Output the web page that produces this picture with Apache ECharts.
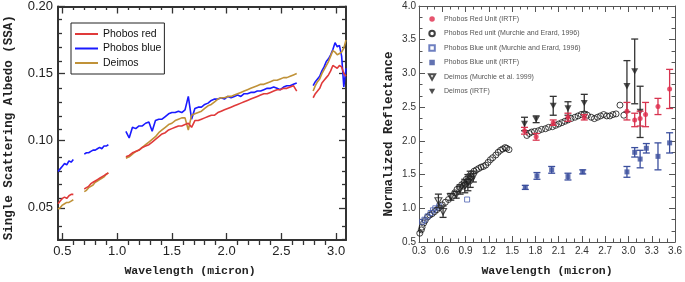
<!DOCTYPE html>
<html>
<head>
<meta charset="utf-8">
<script src="https://cdn.jsdelivr.net/npm/echarts@6/dist/echarts.min.js"></script>
<style>
html, body { margin: 0; padding: 0; background: #fff; }
#chart { width: 685px; height: 282px; }
</style>
</head>
<body>
<div id="chart"></div>
<script>
// left panel: single scattering albedo spectra (null = gap between segments)
const ssaWavelength = [
  0.46, 0.48, 0.50, 0.52, 0.54, 0.56, 0.58, 0.60, null,
  0.70, 0.72, 0.74, 0.76, 0.78, 0.80, 0.82, 0.84, 0.86, 0.88, 0.90, 0.92, null,
  1.08, 1.11, 1.14, 1.17, 1.20, 1.23, 1.26, 1.29, 1.32, 1.35, 1.38, 1.41, 1.44, 1.47, 1.50, 1.53, 1.56, 1.59,
  1.62, 1.65, 1.68, 1.71, 1.74, 1.77, 1.80, 1.83, 1.86, 1.89, 1.92, 1.95, 1.98, 2.01, 2.04, 2.07, 2.10, 2.13,
  2.16, 2.19, 2.22, 2.25, 2.28, 2.31, 2.34, 2.37, 2.40, 2.43, 2.46, 2.49, 2.52, 2.55, 2.58, 2.61, 2.64, null,
  2.79, 2.81, 2.83, 2.85, 2.87, 2.89, 2.91, 2.93, 2.95, 2.97, 2.99, 3.01, 3.03, 3.05, 3.07, 3.09
]
const ssaPhobosRed = [
  0.053, 0.055, 0.057, 0.058, 0.057, 0.059, 0.060, 0.060, null,
  0.064, 0.065, 0.066, 0.068, 0.069, 0.070, 0.071, 0.072, 0.073, 0.074, 0.075, 0.076, null,
  0.088, 0.089, 0.091, 0.092, 0.093, 0.095, 0.096, 0.097, 0.099, 0.101, 0.103, 0.105, 0.106, 0.108, 0.109, 0.110, 0.111, 0.111,
  0.112, 0.113, 0.110, 0.115, 0.115, 0.116, 0.117, 0.118, 0.119, 0.119, 0.121, 0.122, 0.123, 0.124, 0.125, 0.126, 0.127, 0.128,
  0.129, 0.130, 0.131, 0.132, 0.133, 0.134, 0.135, 0.135, 0.136, 0.137, 0.138, 0.138, 0.139, 0.139, 0.140, 0.141, 0.137, null,
  0.132, 0.135, 0.137, 0.139, 0.143, 0.145, 0.147, 0.149, 0.152, 0.156, 0.155, 0.154, 0.156, 0.155, 0.150, 0.148
]
const ssaPhobosBlue = [
  0.077, 0.079, 0.081, 0.083, 0.082, 0.085, 0.084, 0.086, null,
  0.090, 0.091, 0.091, 0.092, 0.093, 0.093, 0.094, 0.095, 0.094, 0.096, 0.096, 0.097, null,
  0.107, 0.102, 0.110, 0.109, 0.111, 0.111, 0.113, 0.114, 0.107, 0.115, 0.116, 0.116, 0.118, 0.120, 0.121, 0.121, 0.122, 0.121,
  0.123, 0.133, 0.116, 0.124, 0.125, 0.125, 0.127, 0.128, 0.130, 0.131, 0.131, 0.132, 0.131, 0.133, 0.132, 0.133, 0.134, 0.133,
  0.135, 0.135, 0.136, 0.136, 0.137, 0.137, 0.138, 0.139, 0.139, 0.140, 0.139, 0.138, 0.140, 0.141, 0.141, 0.142, 0.143, null,
  0.141, 0.144, 0.146, 0.148, 0.152, 0.155, 0.159, 0.161, 0.164, 0.168, 0.173, 0.170, 0.171, 0.163, 0.140, 0.154
]
const ssaDeimos = [
  0.049, 0.050, 0.052, 0.053, 0.054, 0.054, 0.055, 0.056, null,
  0.062, 0.063, 0.065, 0.066, 0.067, 0.069, 0.070, 0.071, 0.072, 0.073, 0.075, 0.076, null,
  0.087, 0.088, 0.090, 0.092, 0.093, 0.095, 0.097, 0.099, 0.101, 0.103, 0.106, 0.108, 0.110, 0.112, 0.113, 0.115, 0.116, 0.117,
  0.117, 0.108, 0.119, 0.120, 0.121, 0.122, 0.124, 0.126, 0.127, 0.129, 0.131, 0.132, 0.132, 0.133, 0.133, 0.134, 0.135, 0.136,
  0.137, 0.138, 0.139, 0.140, 0.141, 0.142, 0.142, 0.143, 0.144, 0.145, 0.145, 0.146, 0.147, 0.147, 0.148, 0.149, 0.150, null,
  0.137, 0.141, 0.144, 0.146, 0.150, 0.153, 0.156, 0.159, 0.163, 0.167, 0.166, 0.164, 0.165, 0.166, 0.169, 0.175
]
const ssaXMajor = [0.5, 1.0, 1.5, 2.0, 2.5, 3.0]
const ssaXMinor = [0.6, 0.7, 0.8, 0.9, 1.1, 1.2, 1.3, 1.4, 1.6, 1.7, 1.8, 1.9, 2.1, 2.2, 2.3, 2.4, 2.6, 2.7, 2.8, 2.9]
const ssaYMajor = [0.05, 0.10, 0.15, 0.20]
const ssaYMinor = [0.03, 0.04, 0.06, 0.07, 0.08, 0.09, 0.11, 0.12, 0.13, 0.14, 0.16, 0.17, 0.18, 0.19]

// right panel: normalized reflectance, [wavelength, value, error]
const phobosRedIrtf = [[1.66, 2.15, 0.05], [1.81, 2.06, 0.05], [2.03, 2.27, 0.04], [2.22, 2.35, 0.06], [2.43, 2.35, 0.04],
  [2.98, 2.44, 0.13], [3.08, 2.31, 0.10], [3.15, 2.33, 0.11], [3.22, 2.39, 0.18], [3.38, 2.51, 0.12], [3.53, 2.77, 0.29]]
const phobosBlueIrtf = [[1.67, 1.31, 0.03], [1.82, 1.48, 0.05], [2.01, 1.57, 0.05], [2.22, 1.47, 0.05], [2.41, 1.54, 0.03],
  [2.98, 1.54, 0.08], [3.08, 1.83, 0.07], [3.15, 1.73, 0.13], [3.23, 1.89, 0.07], [3.38, 1.77, 0.20], [3.53, 1.97, 0.15]]
const deimosIrtf = [[1.66, 2.25, 0.10], [1.81, 2.32, 0.05], [2.03, 2.52, 0.14], [2.22, 2.48, 0.10], [2.43, 2.56, 0.13],
  [2.98, 2.81, 0.38], [3.08, 3.03, 0.48], [3.15, 2.43, 0.38]]
const deimosMurchie = [[0.55, 1.11, 0.10], [0.61, 0.95, 0.085], [0.71, 1.17, 0.05], [0.78, 1.20, 0.05], [0.83, 1.28, 0.07],
  [0.89, 1.33, 0.10], [0.93, 1.38, 0.12], [0.96, 1.43, 0.12], [1.00, 1.47, 0.08]]
const phobosRedMurchie = [[0.31, 0.63], [0.33, 0.68], [0.34, 0.72], [0.36, 0.78], [0.38, 0.82], [0.41, 0.87], [0.44, 0.90],
  [0.47, 0.92], [0.50, 0.95], [0.53, 0.98], [0.56, 1.01], [0.60, 1.05], [0.64, 1.09], [0.68, 1.13], [0.73, 1.18],
  [0.76, 1.23], [0.79, 1.28], [0.82, 1.31], [0.85, 1.35], [0.87, 1.33], [0.88, 1.38], [0.90, 1.36], [0.91, 1.43],
  [0.93, 1.41], [0.94, 1.47], [0.95, 1.40], [0.97, 1.51], [0.98, 1.46], [1.01, 1.55], [1.04, 1.57], [1.07, 1.59],
  [1.10, 1.61], [1.13, 1.62], [1.16, 1.64], [1.19, 1.68], [1.22, 1.72], [1.25, 1.75], [1.29, 1.79], [1.32, 1.83],
  [1.35, 1.86], [1.38, 1.88], [1.41, 1.90], [1.43, 1.89], [1.46, 1.87],
  [1.69, 2.08], [1.72, 2.11], [1.75, 2.13], [1.79, 2.14], [1.84, 2.15], [1.88, 2.17], [1.93, 2.18], [1.97, 2.20],
  [2.02, 2.21], [2.06, 2.23], [2.10, 2.25], [2.14, 2.27], [2.18, 2.29], [2.22, 2.31], [2.26, 2.33], [2.31, 2.35],
  [2.35, 2.37], [2.39, 2.39], [2.43, 2.40], [2.47, 2.38], [2.52, 2.35], [2.56, 2.33], [2.60, 2.35], [2.64, 2.37],
  [2.68, 2.39], [2.72, 2.37], [2.76, 2.37], [2.80, 2.39], [2.84, 2.40], [2.89, 2.53], [2.94, 2.38]]
const phobosBlueMurchie = [[0.34, 0.80], [0.37, 0.83], [0.41, 0.88], [0.45, 0.93], [0.48, 0.97], [0.51, 1.00], [0.56, 1.03], [0.92, 1.13]]

const narrow = "'Liberation Sans Narrow', 'Liberation Sans', Arial, sans-serif"
const sans = "'Liberation Sans', Arial, sans-serif"
const mono = "'Liberation Mono', 'Courier New', monospace"

function toPairs(xs, ys) { return xs.map((x, i) => [x, ys[i]]) }

function errorBars(color, cap) {
	return function (params, api) {
		const x = api.value(0), y = api.value(1), e = api.value(2)
		const hi = api.coord([x, y + e])
		const lo = api.coord([x, y - e])
		const style = { stroke: color, lineWidth: 1.3 }
		return {
			type: 'group',
			children: [
				{ type: 'line', shape: { x1: hi[0], y1: hi[1], x2: lo[0], y2: lo[1] }, style },
				{ type: 'line', shape: { x1: hi[0] - cap, y1: hi[1], x2: hi[0] + cap, y2: hi[1] }, style },
				{ type: 'line', shape: { x1: lo[0] - cap, y1: lo[1], x2: lo[0] + cap, y2: lo[1] }, style }
			]
		}
	}
}

// axis helpers
function ssaX(grid, pos, ticks, len, opts) {
	return Object.assign({
		type: 'value', gridIndex: grid, position: pos, min: 0.46, max: 3.09,
		splitLine: { show: false },
		axisLine: { show: false, onZero: false },
		axisTick: { show: true, inside: true, length: len, customValues: ticks, lineStyle: { color: '#333', width: 1.3 } },
		axisLabel: { show: false }
	}, opts || {})
}
function ssaY(grid, pos, ticks, len, opts) {
	return Object.assign({
		type: 'value', gridIndex: grid, position: pos, min: 0.026, max: 0.20,
		splitLine: { show: false },
		axisLine: { show: false, onZero: false },
		axisTick: { show: true, inside: true, length: len, customValues: ticks, lineStyle: { color: '#333', width: 1.3 } },
		axisLabel: { show: false }
	}, opts || {})
}
const ssaLine = { show: true, onZero: false, lineStyle: { color: '#333', width: 2 } }

function refX(pos, opts) {
	return Object.assign({
		type: 'value', gridIndex: 2, position: pos, min: 0.3, max: 3.6, interval: 0.3,
		splitLine: { show: false },
		axisLine: { show: true, onZero: false, lineStyle: { color: '#555', width: 1 } },
		axisTick: { show: true, inside: true, length: 6, lineStyle: { color: '#555' } },
		minorTick: { show: true, splitNumber: 3, length: 3.5, lineStyle: { color: '#555' } },
		axisLabel: { show: false }
	}, opts || {})
}
function refY(pos, opts) {
	return Object.assign({
		type: 'value', gridIndex: 2, position: pos, min: 0.5, max: 4.0, interval: 0.5,
		splitLine: { show: false },
		axisLine: { show: true, onZero: false, lineStyle: { color: '#555', width: 1 } },
		axisTick: { show: true, inside: true, length: 6, lineStyle: { color: '#555' } },
		minorTick: { show: true, splitNumber: 3, length: 3.5, lineStyle: { color: '#555' } },
		axisLabel: { show: false }
	}, opts || {})
}

const downTri = 'path://M0,0L10,0L5,9Z'
const square = 'path://M0,0L10,0L10,10L0,10Z'
const chart = echarts.init(document.getElementById('chart'))
chart.setOption({
	animation: false,
	grid: [
		{ left: 58, right: 339, top: 6, bottom: 37 },
		{ left: 58, right: 339, top: 6, bottom: 37 },
		{ left: 419, right: 8, top: 6, bottom: 35 }
	],
	legend: [
		{
			orient: 'vertical', left: 71, top: 23, selectedMode: false,
			data: ['Phobos red', 'Phobos blue', 'Deimos'],
			icon: 'rect', itemWidth: 23, itemHeight: 2, itemGap: 2.5,
			padding: [5, 3, 5, 4], borderColor: '#222', borderWidth: 1, backgroundColor: '#fff',
			textStyle: { fontFamily: sans, fontSize: 10.5, lineHeight: 12, color: '#111' }
		},
		{
			orient: 'vertical', left: 428, top: 15, selectedMode: false,
			data: ['Phobos Red Unit (IRTF)', 'Phobos Red unit (Murchie and Erard, 1996)', 'Phobos Blue unit (Murchie and Erard, 1996)',
				'Phobos Blue unit (IRTF)', 'Deimos (Murchie et al. 1999)', 'Deimos (IRTF)'],
			itemWidth: 14, itemHeight: 5.5, itemGap: 6.5, padding: 0,
			textStyle: { fontFamily: sans, fontSize: 7, lineHeight: 8, color: '#555' }
		}
	],
	xAxis: [
		ssaX(0, 'bottom', ssaXMajor, 7, {
			axisLine: ssaLine,
			axisLabel: { show: true, customValues: ssaXMajor, margin: 5, fontFamily: narrow, fontSize: 13, color: '#222', formatter: v => v.toFixed(1) },
			name: 'Wavelength (micron)', nameLocation: 'middle', nameGap: 25,
			nameTextStyle: { fontFamily: mono, fontWeight: 'bold', fontSize: 11.5, color: '#222', padding: [0, 24, 0, 0] }
		}),
		ssaX(0, 'top', ssaXMajor, 7, { axisLine: ssaLine }),
		ssaX(1, 'bottom', ssaXMinor, 4),
		ssaX(1, 'top', ssaXMinor, 4),
		refX('bottom', {
			axisLabel: { show: true, margin: 4, fontFamily: sans, fontSize: 10, color: '#333', formatter: v => v.toFixed(1) },
			name: 'Wavelength (micron)', nameLocation: 'middle', nameGap: 23,
			nameTextStyle: { fontFamily: mono, fontWeight: 'bold', fontSize: 11.5, color: '#222' }
		}),
		refX('top')
	],
	yAxis: [
		ssaY(0, 'left', ssaYMajor, 7, {
			axisLine: ssaLine,
			axisLabel: { show: true, customValues: ssaYMajor, margin: 5, fontFamily: narrow, fontSize: 13, color: '#222', formatter: v => v.toFixed(2) },
			name: 'Single Scattering Albedo (SSA)', nameLocation: 'middle', nameGap: 43,
			nameTextStyle: { fontFamily: mono, fontWeight: 'bold', fontSize: 12.5, color: '#222', padding: [0, 9, 0, 0] }
		}),
		ssaY(0, 'right', ssaYMajor, 7, { axisLine: ssaLine }),
		ssaY(1, 'left', ssaYMinor, 4),
		ssaY(1, 'right', ssaYMinor, 4),
		refY('left', {
			axisLabel: { show: true, margin: 3, fontFamily: sans, fontSize: 10, color: '#333', formatter: v => v.toFixed(1) },
			name: 'Normalized Reflectance', nameLocation: 'middle', nameGap: 24,
			nameTextStyle: { fontFamily: mono, fontWeight: 'bold', fontSize: 12.5, color: '#222', padding: [0, 20, 0, 0] }
		}),
		refY('right')
	],
	series: [
		{ name: 'Phobos red', type: 'line', xAxisIndex: 0, yAxisIndex: 0, showSymbol: false, connectNulls: false,
			data: toPairs(ssaWavelength, ssaPhobosRed), lineStyle: { color: '#e03a3a', width: 1.6 }, itemStyle: { color: '#e03a3a' }, z: 3 },
		{ name: 'Phobos blue', type: 'line', xAxisIndex: 0, yAxisIndex: 0, showSymbol: false, connectNulls: false,
			data: toPairs(ssaWavelength, ssaPhobosBlue), lineStyle: { color: '#1a1aff', width: 1.6 }, itemStyle: { color: '#1a1aff' }, z: 2 },
		{ name: 'Deimos', type: 'line', xAxisIndex: 0, yAxisIndex: 0, showSymbol: false, connectNulls: false,
			data: toPairs(ssaWavelength, ssaDeimos), lineStyle: { color: '#c09238', width: 1.6 }, itemStyle: { color: '#c09238' }, z: 2 },

		{ name: 'Phobos Red unit (Murchie and Erard, 1996)', type: 'scatter', xAxisIndex: 4, yAxisIndex: 4,
			data: phobosRedMurchie, symbol: 'circle', symbolSize: 6,
			itemStyle: { color: 'rgba(255,255,255,0)', borderColor: '#111', borderWidth: 1 }, z: 2 },
		{ name: 'Phobos Blue unit (Murchie and Erard, 1996)', type: 'scatter', xAxisIndex: 4, yAxisIndex: 4,
			data: phobosBlueMurchie, symbol: square, symbolSize: 5,
			itemStyle: { color: 'rgba(255,255,255,0)', borderColor: '#4a5fb0', borderWidth: 1 }, z: 2 },
		{ name: 'deimosMurchieErr', type: 'custom', xAxisIndex: 4, yAxisIndex: 4, silent: true,
			data: deimosMurchie, encode: { x: 0, y: 1 }, renderItem: errorBars('#333', 3.5), z: 3 },
		{ name: 'Deimos (Murchie et al. 1999)', type: 'scatter', xAxisIndex: 4, yAxisIndex: 4,
			data: deimosMurchie, symbol: downTri, symbolSize: [7, 6.3],
			itemStyle: { color: 'rgba(255,255,255,0)', borderColor: '#222', borderWidth: 1.1 }, z: 3 },
		{ name: 'blueIrtfErr', type: 'custom', xAxisIndex: 4, yAxisIndex: 4, silent: true,
			data: phobosBlueIrtf, encode: { x: 0, y: 1 }, renderItem: errorBars('#3b4f9e', 3.5), z: 3 },
		{ name: 'Phobos Blue unit (IRTF)', type: 'scatter', xAxisIndex: 4, yAxisIndex: 4,
			data: phobosBlueIrtf, symbol: square, symbolSize: 5, itemStyle: { color: '#3b4f9e' }, z: 3 },
		{ name: 'deimosIrtfErr', type: 'custom', xAxisIndex: 4, yAxisIndex: 4, silent: true,
			data: deimosIrtf, encode: { x: 0, y: 1 }, renderItem: errorBars('#333', 3.5), z: 3 },
		{ name: 'Deimos (IRTF)', type: 'scatter', xAxisIndex: 4, yAxisIndex: 4,
			data: deimosIrtf, symbol: downTri, symbolSize: [7, 6.3], itemStyle: { color: '#222' }, z: 3 },
		{ name: 'redIrtfErr', type: 'custom', xAxisIndex: 4, yAxisIndex: 4, silent: true,
			data: phobosRedIrtf, encode: { x: 0, y: 1 }, renderItem: errorBars('#d8344f', 3.5), z: 4 },
		{ name: 'Phobos Red Unit (IRTF)', type: 'scatter', xAxisIndex: 4, yAxisIndex: 4,
			data: phobosRedIrtf, symbol: 'circle', symbolSize: 5, itemStyle: { color: '#e0294a' }, z: 4 }
	]
})
</script>
</body>
</html>
